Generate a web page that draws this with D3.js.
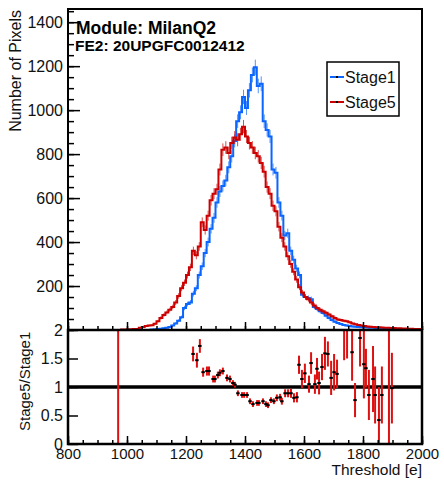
<!DOCTYPE html>
<html>
<head>
<meta charset="utf-8">
<script src="https://cdn.jsdelivr.net/npm/d3@7"></script>
<style>
  body { margin: 0; background: #fff; }
  svg { display: block; font-family: "Liberation Sans", Arial, Helvetica, sans-serif; }
</style>
</head>
<body>
<svg id="svg" width="444" height="481"></svg>
<script>
// histogram bins: 10 e wide, first bin starts at 960 e
const binStart = 960;
const binWidth = 10;

const stage1 = [
  0, 0, 0, 0, 0, 0, 0, 0, 0, 0, 0, 0,
  2, 3, 5, 6, 8, 10, 14, 20, 30, 42, 58, 100, 118, 125, 165, 190, 250, 290,
  350, 400, 460, 510, 580, 630, 655, 680, 740, 790, 860, 950, 990, 1060,
  1010, 1090, 1160, 1195, 1110, 1120, 950, 910, 880, 730, 715, 580, 520, 430,
  440, 360, 320, 280, 250, 160, 150, 145, 140, 105, 95, 85, 77, 65, 55, 45,
  38, 32, 27, 23, 20, 18, 16, 15, 14, 13, 12, 11, 10, 10, 9, 9, 8, 8, 7, 7,
  6, 5, 5, 4, 4, 3, 2, 2, 1, 1
];

const stage5 = [
  0, 0, 2, 2, 3, 3, 4, 5, 10, 14, 18, 20,
  22, 28, 40, 55, 68, 80, 92, 105, 125, 155, 190, 215, 250, 285, 360, 340,
  380, 490, 455, 520, 590, 620, 640, 730, 820, 830, 805, 850, 875, 865, 890,
  925, 880, 850, 830, 805, 790, 760, 720, 650, 620, 565, 540, 470, 420, 380,
  335, 300, 265, 230, 195, 170, 150, 140, 125, 112, 100, 92, 85, 78, 70, 62,
  55, 48, 45, 42, 40, 35, 30, 26, 23, 20, 18, 16, 15, 14, 13, 12, 11, 10, 10,
  9, 9, 8, 8, 7, 7, 6, 6, 5, 5, 4
];

// ratio Stage5/Stage1
const ratioE = [
  970, 1224, 1237, 1247, 1258, 1271, 1278, 1292, 1298, 1308, 1315, 1325, 1339,
  1349, 1359, 1366, 1376, 1390, 1397, 1407, 1417, 1427, 1441, 1447, 1461, 1471,
  1478, 1488, 1498, 1508, 1519, 1525, 1536, 1546, 1556, 1566, 1576, 1583, 1593,
  1603, 1617, 1624, 1637, 1644, 1651, 1661, 1671, 1681, 1692, 1702, 1712, 1736,
  1746, 1763, 1773, 1790, 1803, 1810, 1820, 1834, 1841, 1854, 1864, 1888, 1898
];
const ratioVal = [
  2.5, 1.58, 1.47, 1.72, 1.26, 1.28, 1.28, 1.14, 1.14, 1.21, 1.25, 1.28, 1.16,
  1.14, 1.07, 1.04, 0.89, 0.86, 0.86, 0.86, 0.75, 0.70, 0.72, 0.72, 0.75, 0.70,
  0.68, 0.77, 0.75, 0.81, 0.82, 0.75, 0.89, 0.89, 0.89, 0.81, 0.82, 1.39, 1.14,
  1.24, 1.05, 1.42, 1.05, 1.32, 1.07, 1.35, 1.59, 1.58, 1.16, 1.26, 1.23, 2.3,
  2.4, 1.61, 0.77, 1.86, 1.40, 1.33, 0.86, 1.14, 0.86, 0.42, 0.86, 2.6, 0.98
];
const ratioErr = [
  2.5, 0.13, 0.13, 0.12, 0.08, 0.08, 0.08, 0.06, 0.06, 0.06, 0.06, 0.06, 0.06,
  0.06, 0.05, 0.05, 0.05, 0.05, 0.05, 0.05, 0.05, 0.05, 0.05, 0.05, 0.05, 0.05,
  0.05, 0.05, 0.05, 0.06, 0.06, 0.06, 0.07, 0.07, 0.08, 0.08, 0.09, 0.16, 0.16,
  0.17, 0.15, 0.19, 0.17, 0.19, 0.2, 0.23, 0.29, 0.22, 0.3, 0.32, 0.25, 0.83,
  0.9, 0.5, 0.3, 0.5, 0.6, 0.34, 0.44, 0.58, 0.5, 0.58, 0.5, 2.6, 0.62
];

const xTicks = [800, 1000, 1200, 1400, 1600, 1800, 2000];
const yTicks = [200, 400, 600, 800, 1000, 1200, 1400];
const ratioTicks = [0, 0.5, 1, 1.5, 2];

const seriesNames = ["Stage1", "Stage5"];
const seriesColors = ["#0a66ff", "#cc0000"];

const svg = d3.select("#svg");

const padLeft = 68, padRight = 422, padTop = 9, padMid = 330, padBottom = 444;

const x = d3.scaleLinear().domain([800, 2000]).range([padLeft, padRight]);
const y = d3.scaleLinear().domain([0, 1460]).range([padMid, padTop]);
const yr = d3.scaleLinear().domain([0, 2]).range([padBottom, padMid]);

const defs = svg.append("defs");
defs.append("clipPath").attr("id", "clipTop")
  .append("rect").attr("x", padLeft).attr("y", padTop)
  .attr("width", padRight - padLeft).attr("height", padMid - padTop);
defs.append("clipPath").attr("id", "clipBot")
  .append("rect").attr("x", padLeft).attr("y", padMid)
  .attr("width", padRight - padLeft).attr("height", padBottom - padMid);

// ----- top pad: histograms -----
const histGroup = svg.append("g").attr("clip-path", "url(#clipTop)");

[stage1, stage5].forEach((counts, k) => {
  const pts = counts.map((v, i) => [binStart + i * binWidth, v]);
  pts.push([binStart + counts.length * binWidth, counts[counts.length - 1]]);
  const line = d3.line().x(d => x(d[0])).y(d => y(d[1])).curve(d3.curveStepAfter);
  const g = histGroup.append("g");
  g.selectAll("line.err")
    .data(counts.map((v, i) => [binStart + (i + 0.5) * binWidth, v]).filter(d => d[1] > 0))
    .join("line")
    .attr("class", "err")
    .attr("x1", d => x(d[0])).attr("x2", d => x(d[0]))
    .attr("y1", d => y(d[1] + Math.sqrt(d[1])))
    .attr("y2", d => y(d[1] - Math.sqrt(d[1])))
    .style("stroke", seriesColors[k])
    .style("stroke-width", 1)
    .style("opacity", 0.7);
  g.append("path")
    .attr("d", line(pts))
    .style("fill", "none")
    .style("stroke", seriesColors[k])
    .style("stroke-width", 2);
});

// top pad axes
const yAxisMinor = d3.axisLeft(y).tickValues(d3.range(0, 1460, 50)).tickSize(-6).tickFormat("");
svg.append("g").attr("transform", `translate(${padLeft},0)`).call(yAxisMinor);
const yAxis = d3.axisLeft(y).tickValues(yTicks).tickSize(-12).tickPadding(5).tickFormat(d3.format("d"));
svg.append("g").attr("class", "yaxis").attr("transform", `translate(${padLeft},0)`).call(yAxis);

const xTopMinor = d3.axisBottom(x).tickValues(d3.range(800, 2001, 50)).tickSize(-4).tickFormat("");
svg.append("g").attr("transform", `translate(0,${padMid})`).call(xTopMinor);
const xTopMajor = d3.axisBottom(x).tickValues(xTicks).tickSize(-8).tickFormat("");
svg.append("g").attr("transform", `translate(0,${padMid})`).call(xTopMajor);

// ----- bottom pad: ratio -----
const ratioGroup = svg.append("g").attr("clip-path", "url(#clipBot)");
const ratioData = ratioE.map((e, i) => ({ e: e, v: ratioVal[i], err: ratioErr[i] }));

ratioGroup.append("line")
  .attr("x1", padLeft).attr("x2", padRight)
  .attr("y1", yr(1)).attr("y2", yr(1))
  .style("stroke", "#000").style("stroke-width", 3.5);

ratioGroup.selectAll("line.rerr")
  .data(ratioData)
  .join("line")
  .attr("class", "rerr")
  .attr("x1", d => x(d.e)).attr("x2", d => x(d.e))
  .attr("y1", d => yr(d.v + d.err)).attr("y2", d => yr(d.v - d.err))
  .style("stroke", "#dd1111")
  .style("stroke-width", 2);

ratioGroup.selectAll("rect.pt")
  .data(ratioData)
  .join("rect")
  .attr("class", "pt")
  .attr("x", d => x(d.e) - 1.75).attr("y", d => yr(d.v) - 1)
  .attr("width", 3.5).attr("height", 2)
  .style("fill", "#000");

const yrAxis = d3.axisLeft(yr).tickValues(ratioTicks).tickSize(-10).tickPadding(5)
  .tickFormat(d3.format("~g"));
svg.append("g").attr("class", "yaxis").attr("transform", `translate(${padLeft},0)`).call(yrAxis);

const xBotMinor = d3.axisBottom(x).tickValues(d3.range(800, 2001, 50)).tickSize(-4).tickFormat("");
svg.append("g").attr("transform", `translate(0,${padBottom})`).call(xBotMinor);
const xBotMajor = d3.axisBottom(x).tickValues(xTicks).tickSize(-8).tickPadding(4)
  .tickFormat(d3.format("d"));
svg.append("g").attr("class", "xaxis").attr("transform", `translate(0,${padBottom})`).call(xBotMajor);

svg.selectAll(".domain").remove();
svg.selectAll(".tick line").style("stroke", "#000").style("stroke-width", 1.5);
svg.selectAll(".yaxis text").style("font-size", "16px").style("fill", "#111");
svg.selectAll(".xaxis text").style("font-size", "15px").style("fill", "#111");

// frames
svg.append("rect")
  .attr("x", padLeft).attr("y", padTop)
  .attr("width", padRight - padLeft).attr("height", padMid - padTop)
  .style("fill", "none").style("stroke", "#000").style("stroke-width", 2);
svg.append("rect")
  .attr("x", padLeft).attr("y", padMid)
  .attr("width", padRight - padLeft).attr("height", padBottom - padMid)
  .style("fill", "none").style("stroke", "#000").style("stroke-width", 2.5);

// axis titles
svg.append("text")
  .attr("transform", "translate(21,10) rotate(-90)")
  .attr("text-anchor", "end")
  .style("font-size", "16px").style("fill", "#111")
  .text("Number of Pixels");
svg.append("text")
  .attr("transform", "translate(30,431) rotate(-90)")
  .attr("text-anchor", "start")
  .style("font-size", "15px").style("fill", "#111")
  .text("Stage5/Stage1");
svg.append("text")
  .attr("x", padRight).attr("y", 475)
  .attr("text-anchor", "end")
  .style("font-size", "15.5px").style("fill", "#111")
  .text("Threshold [e]");

// labels
svg.append("text")
  .attr("x", 76).attr("y", 34)
  .style("font-size", "17.5px").style("font-weight", "bold")
  .text("Module: MilanQ2");
svg.append("text")
  .attr("x", 75).attr("y", 51)
  .style("font-size", "15.5px").style("font-weight", "bold")
  .text("FE2: 20UPGFC0012412");

// legend
const legend = svg.append("g");
legend.append("rect")
  .attr("x", 327).attr("y", 62).attr("width", 72).attr("height", 54)
  .style("fill", "#fff").style("stroke", "#000").style("stroke-width", 1.5);
seriesNames.forEach((name, k) => {
  const ly = 77 + k * 25;
  legend.append("line")
    .attr("x1", 330).attr("x2", 344).attr("y1", ly).attr("y2", ly)
    .style("stroke", seriesColors[k]).style("stroke-width", 2);
  legend.append("rect")
    .attr("x", 336).attr("y", ly - 1).attr("width", 2).attr("height", 2)
    .style("fill", "#000");
  legend.append("text")
    .attr("x", 345).attr("y", ly + 6)
    .style("font-size", "16px").style("fill", "#111")
    .text(name);
});
</script>
</body>
</html>
